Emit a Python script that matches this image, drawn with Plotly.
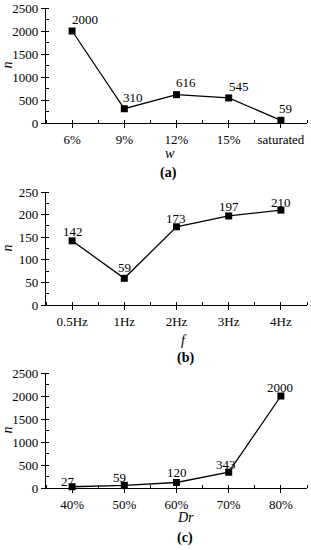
import plotly.graph_objects as go

# ---- data ----
w_labels = ["6%", "9%", "12%", "15%", "saturated"]
n_w = [2000, 310, 616, 545, 59]

f_labels = ["0.5Hz", "1Hz", "2Hz", "3Hz", "4Hz"]
n_f = [142, 59, 173, 197, 210]

dr_labels = ["40%", "50%", "60%", "70%", "80%"]
n_dr = [27, 59, 120, 343, 2000]

# label offsets (px) for value annotations
off_w = [(13, 11), (9, 11), (9, 12), (10, 11), (5, 12)]
off_f = [(1, 9), (0, 11), (-1, 8), (0, 9), (0, 8)]
off_dr = [(-4, 5), (-5, 8), (0, 10), (-3, 8), (-1, 9)]

W, H = 311, 550
FONT = "Liberation Serif, Times New Roman, Times, serif"

def py(px):
    return 1 - px / H

panels = [
    dict(lab=w_labels, val=n_w, off=off_w, yr=[0, 2500], dt=500, dom=[py(123), py(8)],
         xt="w", xt_xy=(170, 153), cap="(a)", cap_xy=(168, 173)),
    dict(lab=f_labels, val=n_f, off=off_f, yr=[0, 250], dt=50, dom=[py(305), py(192)],
         xt="f", xt_xy=(184, 340), cap="(b)", cap_xy=(185, 358)),
    dict(lab=dr_labels, val=n_dr, off=off_dr, yr=[0, 2500], dt=500, dom=[py(488), py(373)],
         xt="Dr", xt_xy=(185, 517), cap="(c)", cap_xy=(185, 538)),
]

fig = go.Figure()
annotations = []
layout = {}
for i, p in enumerate(panels, start=1):
    xs = list(range(len(p["lab"])))
    xa = "x" if i == 1 else f"x{i}"
    ya = "y" if i == 1 else f"y{i}"
    fig.add_trace(go.Scatter(
        x=xs, y=p["val"], xaxis=xa, yaxis=ya, mode="lines+markers",
        line=dict(color="black", width=1.3),
        marker=dict(symbol="square", size=7, color="black"),
        showlegend=False, hoverinfo="skip", cliponaxis=False))
    for xv, yv, (dx, dy) in zip(xs, p["val"], p["off"]):
        annotations.append(dict(
            x=xv, y=yv, xref=xa, yref=ya, text=str(yv), showarrow=False,
            xanchor="center", yanchor="middle", xshift=dx, yshift=dy,
            font=dict(family=FONT, size=13, color="black")))
    layout["xaxis" if i == 1 else f"xaxis{i}"] = dict(
        domain=[46 / W, 307 / W], anchor=ya, range=[-0.5, 4.5],
        tickvals=xs, ticktext=p["lab"], showgrid=False, zeroline=False,
        showline=True, linecolor="black", linewidth=1.2, automargin=False,
        ticks="outside", ticklen=4, tickwidth=1.2, tickcolor="black",
        minor=dict(dtick=0.5, tick0=-0.5, ticks="inside", ticklen=3,
                   tickwidth=1, tickcolor="black", showgrid=False),
        tickfont=dict(family=FONT, size=13, color="black"), fixedrange=True)
    layout["yaxis" if i == 1 else f"yaxis{i}"] = dict(
        domain=p["dom"], anchor=xa, range=p["yr"], dtick=p["dt"], tick0=0,
        showgrid=False, zeroline=False, showline=True, linecolor="black",
        linewidth=1.2, ticks="outside", ticklen=4, tickwidth=1.2,
        tickcolor="black", automargin=False,
        minor=dict(dtick=p["dt"] / 2, ticks="inside", ticklen=3, tickwidth=1,
                   tickcolor="black", showgrid=False),
        tickfont=dict(family=FONT, size=13, color="black"), fixedrange=True)
    # axis titles
    annotations.append(dict(
        x=7 / W, y=(p["dom"][0] + p["dom"][1]) / 2, xref="paper", yref="paper",
        text="<i>n</i>", textangle=-90, showarrow=False, xanchor="center",
        yanchor="middle", font=dict(family=FONT, size=14, color="black")))
    annotations.append(dict(
        x=p["xt_xy"][0] / W, y=py(p["xt_xy"][1]), xref="paper", yref="paper",
        text=f"<i>{p['xt']}</i>", showarrow=False, xanchor="center",
        yanchor="middle", font=dict(family=FONT, size=14, color="black")))
    annotations.append(dict(
        x=p["cap_xy"][0] / W, y=py(p["cap_xy"][1]), xref="paper", yref="paper",
        text=f"<b>{p['cap']}</b>", showarrow=False, xanchor="center",
        yanchor="middle", font=dict(family=FONT, size=14, color="black")))

fig.update_layout(
    width=W, height=H, margin=dict(l=0, r=0, t=0, b=0),
    paper_bgcolor="white", plot_bgcolor="white",
    annotations=annotations, **layout)

fig.write_html(
    "out.html",
    config={"displayModeBar": False},
    post_script="document.body.style.margin='0';document.body.style.overflow='hidden';",
)
